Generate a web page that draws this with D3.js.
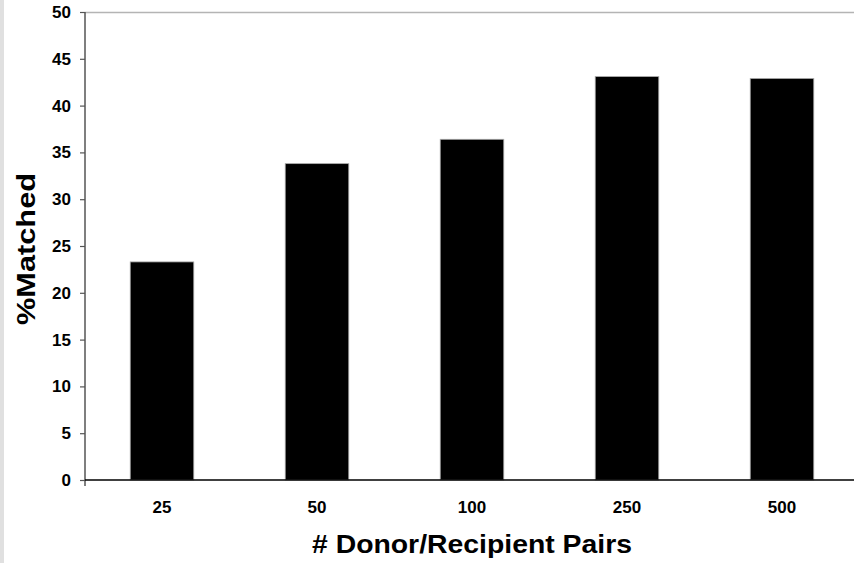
<!DOCTYPE html>
<html><head><meta charset="utf-8">
<script src="https://cdn.jsdelivr.net/npm/d3@7"></script>
<style>body{margin:0;background:#fff;}svg{display:block;}</style>
</head><body>
<script>
const categories = ["25","50","100","250","500"];
const matched = [23.3, 33.8, 36.4, 43.1, 42.9];
const yTicks = [0,5,10,15,20,25,30,35,40,45,50];

const W = 854, H = 563;
const svg = d3.select("body").append("svg").attr("width", W).attr("height", H);
svg.append("rect").attr("x",0).attr("y",0).attr("width",W).attr("height",H).attr("fill","#fff");
svg.append("rect").attr("x",0).attr("y",0).attr("width",4).attr("height",H).attr("fill","#e0e0e0");

const mLeft = 85, mTop = 12, mBottom = 480;
const x = d3.scaleBand().domain(categories).range([84.5, 84.5 + 155*categories.length]).paddingInner(0.59).paddingOuter(0.295);
const y = d3.scaleLinear().domain([0,50]).range([mBottom, mTop]);

// top border
svg.append("line").attr("x1",mLeft).attr("x2",W).attr("y1",mTop+0.5).attr("y2",mTop+0.5).attr("stroke","#b4b4b4").attr("stroke-width",1.5);

// bars
svg.selectAll("rect.bar").data(matched).join("rect").attr("class","bar")
  .attr("x",(d,i)=>x(categories[i]))
  .attr("width",x.bandwidth())
  .attr("y",d=>y(d))
  .attr("height",d=>mBottom - y(d))
  .attr("fill","#000").attr("stroke","#aaa").attr("stroke-width",0.8);

// y axis
const ya = svg.append("g").attr("transform",`translate(${mLeft},0)`)
  .call(d3.axisLeft(y).tickValues(yTicks).tickSize(5).tickPadding(9));
ya.select(".domain").remove();
ya.selectAll(".tick line").attr("stroke","#555").attr("stroke-width",1.2);
ya.selectAll(".tick text").attr("font-family","'Liberation Sans', Arial, sans-serif").attr("font-weight","bold").attr("font-size",17).attr("fill","#000");
svg.append("line").attr("x1",mLeft).attr("x2",mLeft).attr("y1",mTop).attr("y2",mBottom+6).attr("stroke","#555").attr("stroke-width",1.5);

// x axis
const xa = svg.append("g").attr("transform",`translate(0,${mBottom})`)
  .call(d3.axisBottom(x).tickSize(0).tickPadding(21));
xa.select(".domain").remove();
xa.selectAll(".tick text").attr("font-family","'Liberation Sans', Arial, sans-serif").attr("font-weight","bold").attr("font-size",17).attr("fill","#000");
svg.append("line").attr("x1",mLeft).attr("x2",W).attr("y1",mBottom).attr("y2",mBottom).attr("stroke","#000").attr("stroke-width",1.5);

// axis titles
svg.append("text").attr("x",472).attr("y",553).attr("text-anchor","middle")
  .attr("font-family","'Liberation Sans', Arial, sans-serif").attr("font-weight","bold").attr("font-size",25)
  .attr("textLength",320).attr("lengthAdjust","spacingAndGlyphs")
  .text("# Donor/Recipient Pairs");
svg.append("text").attr("transform","translate(35,249) rotate(-90)").attr("text-anchor","middle")
  .attr("font-family","'Liberation Sans', Arial, sans-serif").attr("font-weight","bold").attr("font-size",26)
  .attr("textLength",152).attr("lengthAdjust","spacingAndGlyphs")
  .text("%Matched");
</script>
</body></html>
